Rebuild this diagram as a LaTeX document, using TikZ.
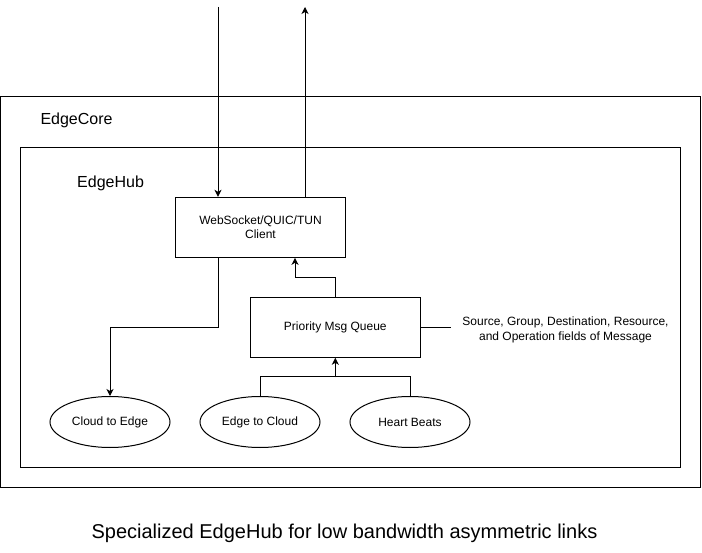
\documentclass[tikz,border=0pt]{standalone}
\usepackage{fontspec}
\setmainfont{Liberation Sans}
\usetikzlibrary{arrows.meta,shapes.geometric,calc}
\begin{document}
\begin{tikzpicture}[x=1pt,y=-1pt,
  line width=1pt,
  arr/.style={-{Stealth[length=7pt,width=7pt,inset=2pt]}},
  boxnode/.style={draw,rectangle,inner sep=0pt,align=center,font=\fontsize{12}{14}\selectfont},
  ovalnode/.style={draw,ellipse,inner sep=0pt,minimum width=120pt,minimum height=51pt,font=\fontsize{12}{14}\selectfont},
  lbl/.style={inner sep=0pt,font=\fontsize{16}{19}\selectfont}]
\useasboundingbox (0,0) rectangle (702,553);
% containers
\node[draw,rectangle,inner sep=0pt,minimum width=699.5pt,minimum height=390pt] (core) at (350.25,292) {};
\node[draw,rectangle,inner sep=0pt,minimum width=659.5pt,minimum height=319.7pt] (hub) at (350.25,307.15) {};
\node[lbl,anchor=west] (corelbl) at (40,120) {EdgeCore};
\node[lbl,anchor=west] (hublbl) at (76.7,183) {EdgeHub};
% boxes
\node[boxnode,minimum width=169.6pt,minimum height=60pt] (ws) at (260.5,227.3) {WebSocket/QUIC/TUN\\Client};
\node[boxnode,minimum width=170pt,minimum height=60pt] (queue) at (335.3,327.3) {Priority Msg Queue};
\node[inner sep=0pt,align=center,font=\fontsize{12}{15.5}\selectfont] (fields) at (565.5,330) {Source, Group, Destination, Resource,\\and Operation fields of Message};
% ellipses
\node[ovalnode] (c2e) at (110,422) {Cloud to Edge};
\node[ovalnode] (e2c) at (260,422) {Edge to Cloud};
\node[ovalnode] (hb) at (410,422) {Heart Beats};
% caption
\node[inner sep=0pt,anchor=base,font=\fontsize{20}{24}\selectfont] (cap) at (344.5,538) {Specialized EdgeHub for low bandwidth asymmetric links};
% external links
\coordinate (inTop) at (218,7);
\coordinate (outTop) at (305,7);
\draw[arr] (inTop) -- (inTop |- ws.north);
\draw[arr] (outTop |- ws.north) -- (outTop);
% ws to cloud-to-edge
\draw[arr] (inTop |- ws.south) -- (inTop |- queue.west) -| (c2e.north);
% queue to ws
\draw[arr] (queue.north) -- ++(0,-19.6) -| ([xshift=34.5pt]ws.south);
% sources into queue
\draw (e2c.north) -- ++(0,-19.7) -| (hb.north);
\draw[arr] ([yshift=-19.7pt]queue.south) -- (queue.south);
% queue to fields
\draw (queue.east) -- ++(30,0);
\end{tikzpicture}
\end{document}
